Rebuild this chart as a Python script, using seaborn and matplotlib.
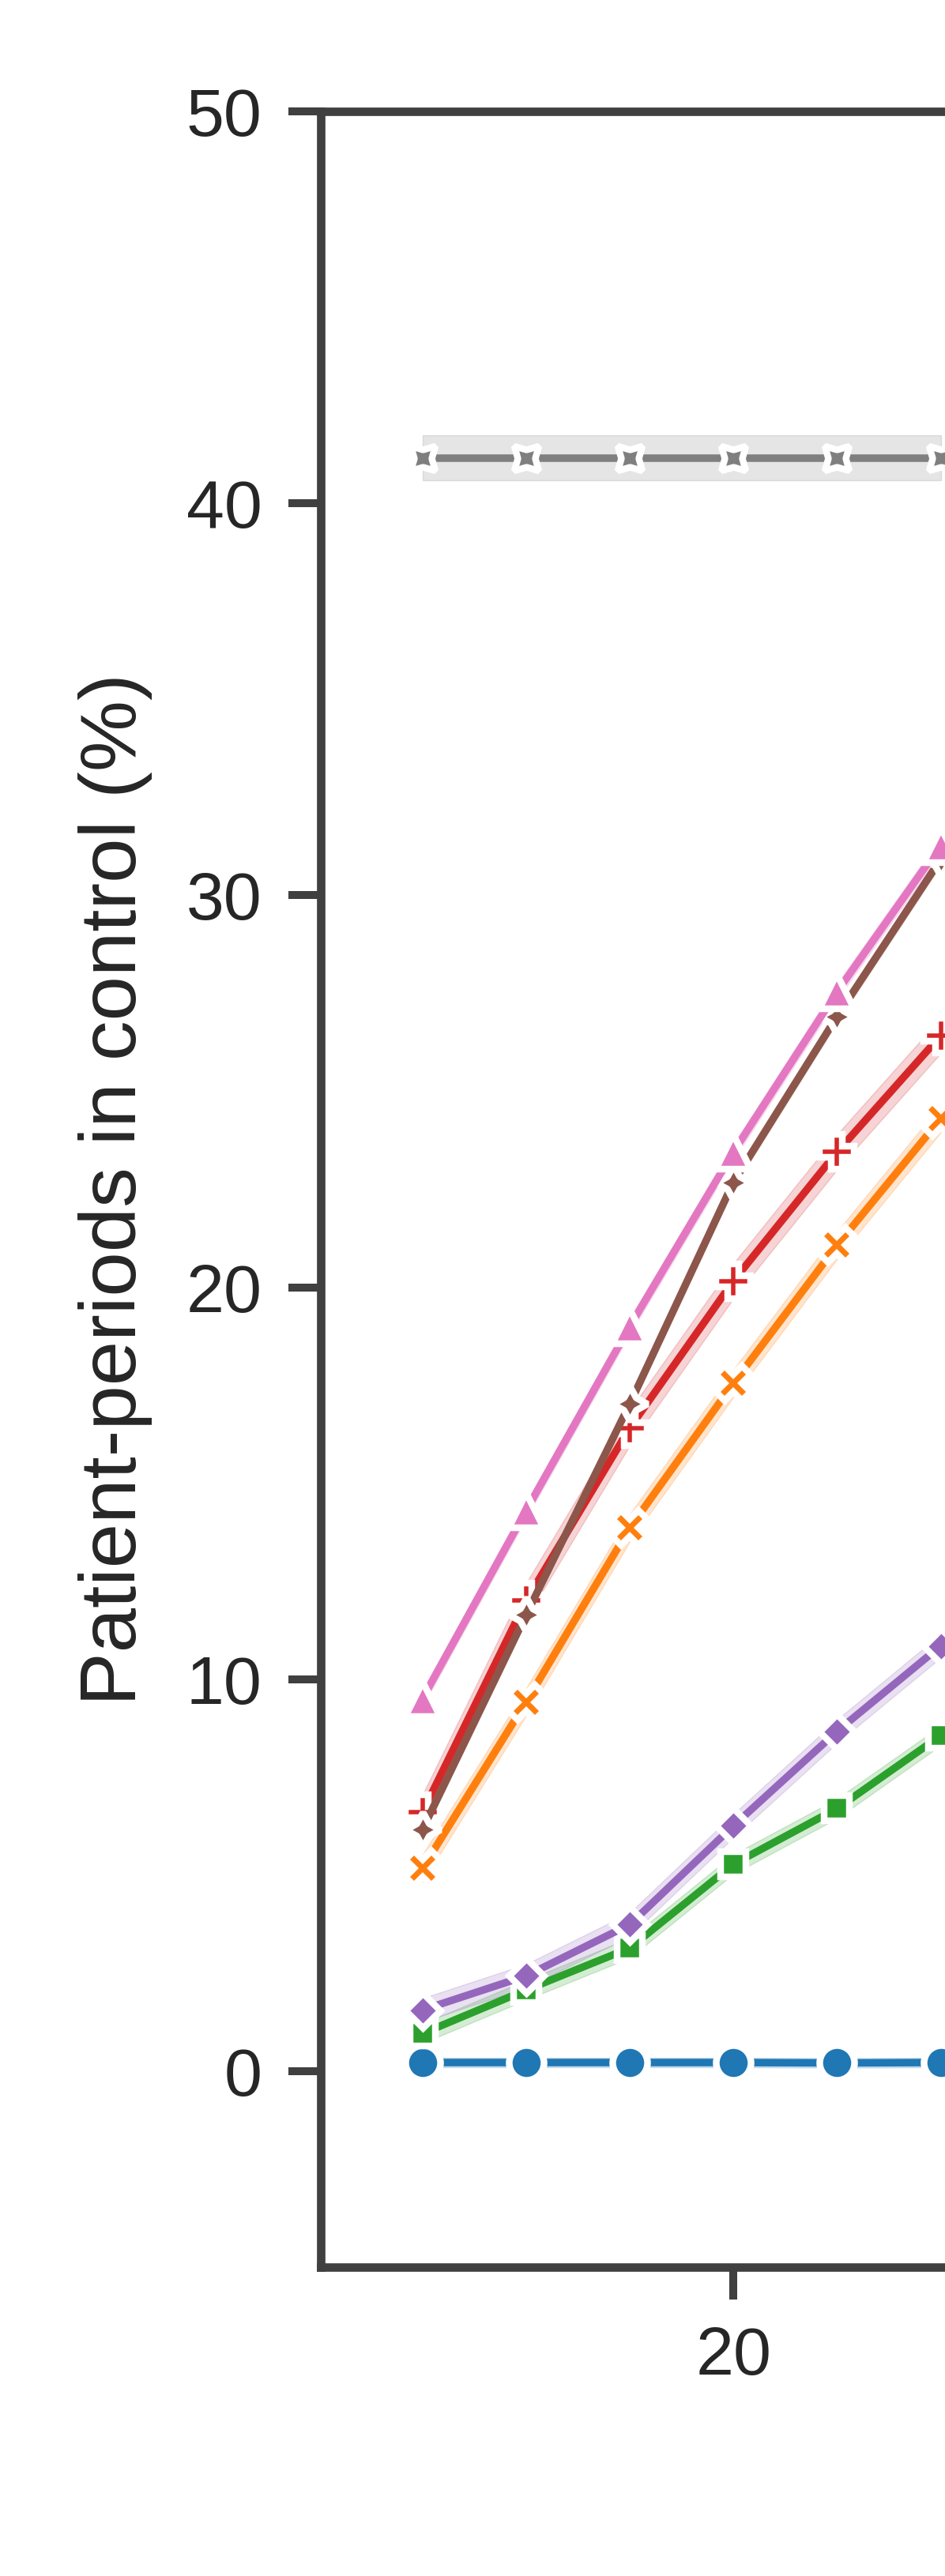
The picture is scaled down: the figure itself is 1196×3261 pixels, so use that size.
import numpy as np
import pandas as pd
import matplotlib
matplotlib.use("Agg")
import matplotlib.pyplot as plt
import seaborn as sns

# ---- data ----
x_values = [5, 10, 15, 20, 25, 30]
groups = ["Group 1", "Group 2", "Group 3", "Group 4",
          "Group 5", "Group 6", "Group 7", "Group 8"]
blue_vals = [0.22, 0.22, 0.22, 0.22, 0.21, 0.22]
orange_vals = [5.17, 9.42, 13.86, 17.55, 21.07, 24.3]
green_vals = [0.96, 2.07, 3.14, 5.28, 6.70, 8.56]
red_vals = [6.60, 12.0, 16.41, 20.16, 23.45, 26.42]
purple_vals = [1.56, 2.43, 3.74, 6.26, 8.67, 10.85]
brown_vals = [6.16, 11.64, 17.02, 22.68, 26.91, 30.92]
pink_vals = [9.5, 14.3, 19.0, 23.45, 27.54, 31.28]
gray_vals = [41.16, 41.16, 41.16, 41.16, 41.16, 41.16]
# half-width of the shaded interval per group
band_half = [0.12, 0.35, 0.25, 0.45, 0.30, 0.15, 0.20, 0.58]

series = [blue_vals, orange_vals, green_vals, red_vals,
          purple_vals, brown_vals, pink_vals, gray_vals]

rows = []
for g, vals, hw in zip(groups, series, band_half):
    for xv, v in zip(x_values, vals):
        rows.append({"x": xv, "value": v - hw, "group": g})
        rows.append({"x": xv, "value": v + hw, "group": g})
df = pd.DataFrame(rows)

# ---- styling ----
sns.set_theme(style="ticks")
plt.rcParams["font.family"] = ["Liberation Sans", "DejaVu Sans"]

W, H, DPI = 1196, 3261, 100
fig = plt.figure(figsize=(W / DPI, H / DPI), dpi=DPI)
ax_left, ax_right_px = 406, 406 + 2750
ax_top, ax_bottom = 141, 2870
ax = fig.add_axes([ax_left / W, (H - ax_bottom) / H,
                   (ax_right_px - ax_left) / W, (ax_bottom - ax_top) / H])

sns.lineplot(data=df, x="x", y="value", hue="group", style="group",
             hue_order=groups, style_order=groups,
             markers=True, dashes=False, palette="tab10",
             estimator="mean", errorbar=("pi", 100),
             linewidth=6.85, markersize=31.7, markeredgewidth=6.1,
             legend=False, ax=ax)

ax.set_ylim(-5, 50)
ax.set_xlim(0.1, 104.9)
ax.set_xlabel("")
ax.set_ylabel("Patient-periods in control (%)", fontsize=73,
              labelpad=31, color=".15")
ax.tick_params(axis="both", length=29.5, width=7.2, pad=24,
               labelsize=62, colors=".25", labelcolor=".15")
for sp in ax.spines.values():
    sp.set_linewidth(7.7)
    sp.set_color(".25")

fig.savefig("out.png", dpi=DPI)
